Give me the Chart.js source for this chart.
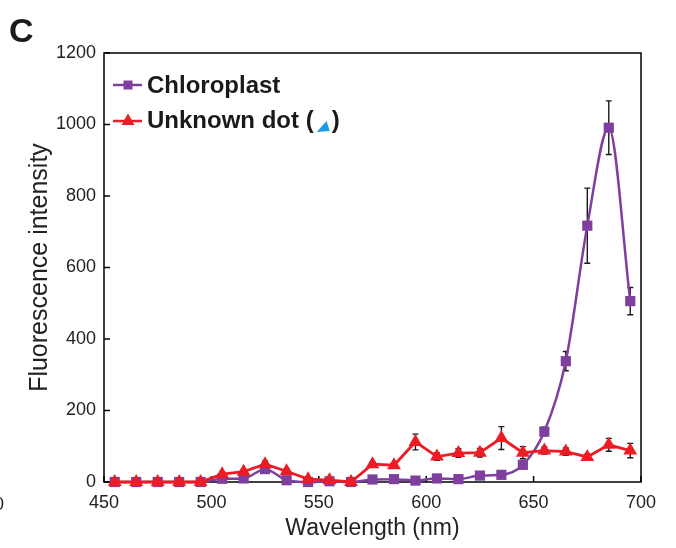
<!DOCTYPE html>
<html>
<head>
<meta charset="utf-8">
<script src="https://cdn.jsdelivr.net/npm/chart.js@4.4.1/dist/chart.umd.min.js"></script>
<style>
  html, body { margin: 0; padding: 0; background: #ffffff; }
  canvas { display: block; }
</style>
</head>
<body>
<canvas id="spectrum" width="676" height="548"></canvas>
<script>
// Emission spectra, panel C
const wavelengths = [455, 465, 475, 485, 495, 505, 515, 525, 535, 545, 555, 565, 575,
                     585, 595, 605, 615, 625, 635, 645, 655, 665, 675, 685, 695];
const chloroplast = [0, 0, 0, 0, 0, 9, 10, 36, 5, 0, 2, 0, 7,
                     8, 4, 10, 8, 18, 20, 48, 141, 338, 717, 991, 506];
const chloroplastErr = [2, 2, 2, 2, 2, 4, 4, 8, 3, 2, 2, 2, 3,
                        3, 3, 4, 4, 5, 5, 6, 12, 27, 105, 75, 38];
const unknownDot = [0, 0, 0, 0, 0, 22, 29, 50, 30, 8, 5, 0, 50,
                    47, 112, 71, 81, 82, 123, 82, 88, 85, 70, 104, 88];
const unknownDotErr = [2, 2, 2, 2, 2, 6, 6, 8, 6, 4, 3, 2, 6,
                       6, 22, 10, 12, 12, 32, 17, 10, 10, 8, 18, 20];
const xTicks = [450, 500, 550, 600, 650, 700];
const yTicks = [0, 200, 400, 600, 800, 1000, 1200];

const FONT = "'Liberation Sans', Arial, Helvetica, sans-serif";
const PURPLE = '#7f3f9e';
const RED = '#ec1c24';
const BLUE = '#1c9ce0';

function toPoints(ys) {
    return wavelengths.map((x, i) => ({ x: x, y: ys[i] }));
}

// error bars under the markers
const errorBars = {
    id: 'errorBars',
    beforeDatasetsDraw(chart) {
        const ctx = chart.ctx;
        const yScale = chart.scales.y;
        const errs = [chloroplastErr, unknownDotErr];
        ctx.save();
        ctx.strokeStyle = '#1a1a1a';
        ctx.lineWidth = 1.4;
        chart.data.datasets.forEach((ds, i) => {
            const meta = chart.getDatasetMeta(i);
            meta.data.forEach((pt, j) => {
                const v = ds.data[j].y;
                const e = errs[i][j];
                const top = yScale.getPixelForValue(v + e);
                const bot = yScale.getPixelForValue(Math.max(v - e, 0));
                ctx.beginPath();
                ctx.moveTo(pt.x, top); ctx.lineTo(pt.x, bot);
                ctx.moveTo(pt.x - 3, top); ctx.lineTo(pt.x + 3, top);
                ctx.moveTo(pt.x - 3, bot); ctx.lineTo(pt.x + 3, bot);
                ctx.stroke();
            });
        });
        ctx.restore();
    }
};

// box around the plot and inward ticks, drawn before the data
const frame = {
    id: 'frame',
    beforeDatasetsDraw(chart) {
        const ctx = chart.ctx;
        const a = chart.chartArea;
        const xs = chart.scales.x, ys = chart.scales.y;
        ctx.save();
        ctx.strokeStyle = '#000';
        ctx.lineWidth = 1.5;
        ctx.strokeRect(a.left, a.top, a.right - a.left, a.bottom - a.top);
        ctx.beginPath();
        xTicks.forEach(v => {
            const px = xs.getPixelForValue(v);
            ctx.moveTo(px, a.bottom); ctx.lineTo(px, a.bottom - 6);
        });
        yTicks.forEach(v => {
            const py = ys.getPixelForValue(v);
            ctx.moveTo(a.left, py); ctx.lineTo(a.left + 6, py);
        });
        ctx.stroke();
        ctx.restore();
    }
};

// legend and panel letter
const decorations = {
    id: 'decorations',
    afterDraw(chart) {
        const ctx = chart.ctx;
        ctx.save();
        ctx.lineWidth = 2.5;
        ctx.strokeStyle = PURPLE;
        ctx.beginPath(); ctx.moveTo(113, 85); ctx.lineTo(142, 85); ctx.stroke();
        ctx.fillStyle = PURPLE;
        ctx.fillRect(123.5, 80.5, 9, 9);
        ctx.strokeStyle = RED;
        ctx.beginPath(); ctx.moveTo(113, 121); ctx.lineTo(142, 121); ctx.stroke();
        ctx.fillStyle = RED;
        ctx.beginPath();
        ctx.moveTo(128, 113.5); ctx.lineTo(134.5, 125); ctx.lineTo(121.5, 125);
        ctx.closePath(); ctx.fill();

        ctx.fillStyle = '#1a1a1a';
        ctx.font = 'bold 24px ' + FONT;
        ctx.textBaseline = 'alphabetic';
        ctx.textAlign = 'left';
        ctx.fillText('Chloroplast', 147, 93);
        const lead = 'Unknown dot (';
        ctx.fillText(lead, 147, 128);
        const tx = 147 + ctx.measureText(lead).width + 3;
        ctx.fillStyle = BLUE;
        ctx.beginPath();
        ctx.moveTo(tx, 132); ctx.lineTo(tx + 10, 121); ctx.lineTo(tx + 13, 131);
        ctx.closePath(); ctx.fill();
        ctx.fillStyle = '#1a1a1a';
        ctx.fillText(')', tx + 15, 128);

        // panel letter and the cut-off label of the neighbouring panel
        ctx.font = 'bold 34px ' + FONT;
        ctx.fillText('C', 9, 42);
        ctx.font = '18px ' + FONT;
        ctx.textAlign = 'center';
        ctx.fillStyle = '#222';
        ctx.fillText('0', -1, 510);
        ctx.restore();
    }
};

function renderSpectrum(ctx) {
    return new Chart(ctx, {
        type: 'line',
        data: {
            datasets: [
                {
                    label: 'Chloroplast',
                    data: toPoints(chloroplast),
                    borderColor: PURPLE,
                    backgroundColor: PURPLE,
                    borderWidth: 2.5,
                    pointStyle: 'rect',
                    pointRadius: 7.2,
                    pointBorderWidth: 0,
                    cubicInterpolationMode: 'monotone',
                    tension: 0.4,
                    clip: false,
                    order: 1
                },
                {
                    label: 'Unknown dot',
                    data: toPoints(unknownDot),
                    borderColor: RED,
                    backgroundColor: RED,
                    borderWidth: 2.8,
                    pointStyle: 'triangle',
                    pointRadius: 8,
                    pointBorderWidth: 0,
                    tension: 0,
                    clip: false,
                    order: 0
                }
            ]
        },
        options: {
            responsive: false,
            animation: false,
            layout: { padding: { left: 0, top: 53, right: 35, bottom: 0 } },
            plugins: {
                legend: { display: false },
                tooltip: { enabled: false }
            },
            scales: {
                x: {
                    type: 'linear',
                    min: 450,
                    max: 700,
                    afterBuildTicks: axis => { axis.ticks = xTicks.map(v => ({ value: v })); },
                    afterFit: axis => { axis.height = 66; },
                    grid: { display: false, drawTicks: false },
                    border: { display: false },
                    ticks: {
                        padding: 10, color: '#222', font: { family: FONT, size: 18 },
                        callback: v => String(v)
                    },
                    title: {
                        display: true,
                        text: 'Wavelength (nm)',
                        color: '#222',
                        font: { family: FONT, size: 23 },
                        padding: { top: 0, bottom: 6 }
                    }
                },
                y: {
                    min: 0,
                    max: 1200,
                    afterBuildTicks: axis => { axis.ticks = yTicks.map(v => ({ value: v })); },
                    afterFit: axis => { axis.width = 104; },
                    grid: { display: false, drawTicks: false },
                    border: { display: false },
                    ticks: {
                        padding: 8, color: '#222', font: { family: FONT, size: 18 },
                        callback: v => String(v)
                    },
                    title: {
                        display: true,
                        text: 'Fluorescence intensity',
                        color: '#222',
                        font: { family: FONT, size: 25 },
                        padding: { top: 25, bottom: 0 }
                    }
                }
            }
        },
        plugins: [frame, errorBars, decorations]
    });
}

window.onload = function () {
    const ctx = document.getElementById('spectrum').getContext('2d');
    renderSpectrum(ctx);
};
</script>
</body>
</html>
